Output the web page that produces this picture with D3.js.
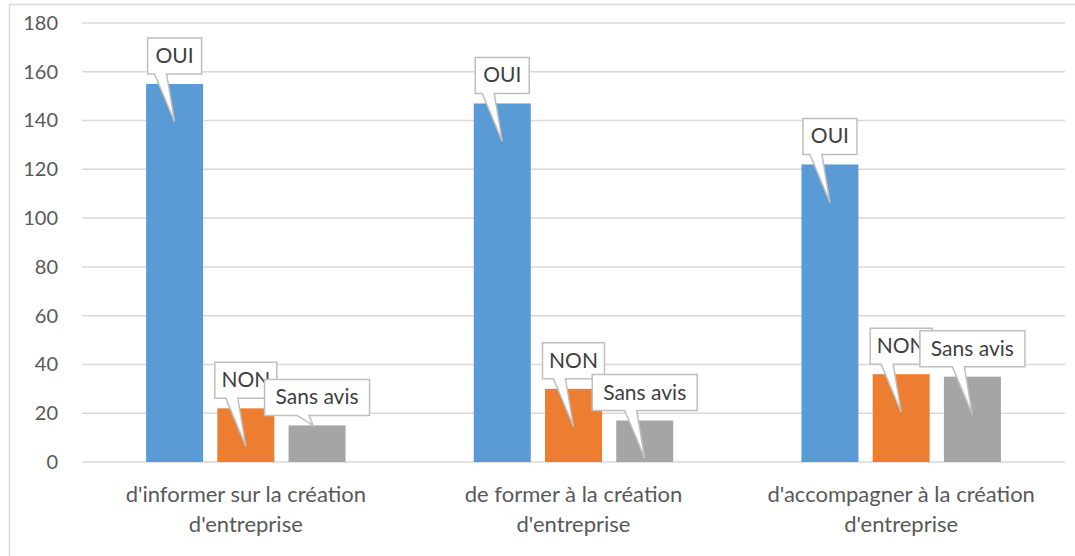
<!DOCTYPE html>
<html>
<head>
<meta charset="utf-8">
<style>
body {margin:0; background:#fff;}
svg {display:block; font-family: Lato, "Open Sans", sans-serif;}
</style>
</head>
<body>
<div id="my_dataviz"></div>
<script src="https://d3js.org/d3.v7.min.js"></script>
<script>
// data
var categories = [["d'informer sur la création", "d'entreprise"],
                  ["de former à la création", "d'entreprise"],
                  ["d'accompagner à la création", "d'entreprise"]]
var seriesNames = ["OUI", "NON", "Sans avis"]
var oui = [155, 147, 122]
var non = [22, 30, 36]
var sansAvis = [15, 17, 35]
var yTicks = [0, 20, 40, 60, 80, 100, 120, 140, 160, 180]
var colors = ["#5b9bd5", "#ed7d31", "#a5a5a5"]

var width = 1075, height = 556
var margin = {top: 23, right: 10, bottom: 94, left: 82}

var svg = d3.select("#my_dataviz")
  .append("svg")
    .attr("width", width)
    .attr("height", height)

// chart frame (only top and left edges are visible in the crop)
svg.append("path")
  .attr("d", "M9.5," + height + "V4.5H" + width)
  .attr("fill", "none")
  .attr("stroke", "#d9d9d9")
  .attr("stroke-width", 1.5)

var x = d3.scaleBand()
  .domain(d3.range(categories.length))
  .range([margin.left, width - margin.right])
  .paddingInner(0).paddingOuter(0)

var x1 = d3.scaleBand()
  .domain(seriesNames)
  .range([0, x.bandwidth()])
  .paddingInner(0.2).paddingOuter(0.9)

var y = d3.scaleLinear()
  .domain([0, 180])
  .range([height - margin.bottom, margin.top])

// gridlines
svg.append("g")
  .selectAll("line")
  .data(yTicks)
  .enter().append("line")
    .attr("x1", margin.left).attr("x2", width - margin.right)
    .attr("y1", function(d){ return y(d) }).attr("y2", function(d){ return y(d) })
    .attr("stroke", "#d9d9d9")
    .attr("stroke-width", 1.5)

// y axis labels
var yAxis = svg.append("g")
  .attr("transform", "translate(58,0)")
  .call(d3.axisLeft(y).tickValues(yTicks).tickSize(0).tickPadding(0))
yAxis.select(".domain").remove()
yAxis.selectAll("text")
  .attr("fill", "#595959")
  .style("font-size", "20px")
  .style("font-family", "Lato, sans-serif")

var series = [oui, non, sansAvis]
var bars = []
series.forEach(function(vals, s){
  vals.forEach(function(v, i){
    bars.push({cat: i, s: s, name: seriesNames[s], value: v})
  })
})

svg.append("g")
  .selectAll("rect")
  .data(bars)
  .enter().append("rect")
    .attr("x", function(d){ return x(d.cat) + x1(d.name) })
    .attr("y", function(d){ return y(d.value) })
    .attr("width", x1.bandwidth())
    .attr("height", function(d){ return y(0) - y(d.value) })
    .attr("fill", function(d){ return colors[d.s] })

// category labels
var cat = svg.append("g")
  .selectAll("text")
  .data(categories)
  .enter().append("text")
    .attr("text-anchor", "middle")
    .attr("fill", "#595959")
    .style("font-size", "22px")
cat.each(function(lines, i){
  var t = d3.select(this)
  lines.forEach(function(l, k){
    t.append("tspan")
      .attr("x", x(i) + x.bandwidth() / 2)
      .attr("y", 502 + k * 30)
      .text(l)
  })
})

// callouts, drawn per category so that "Sans avis" sits on top of "NON"
var boxW = {"OUI": 54, "NON": 62, "Sans avis": 105}
var boxH = 36
var calls = svg.append("g")
d3.range(categories.length).forEach(function(i){
  bars.filter(function(d){ return d.cat == i }).forEach(function(d){
    var cx = x(d.cat) + x1(d.name) + x1.bandwidth() / 2
    var top = y(d.value)
    var w = boxW[d.name]
    var bx = cx - w / 2, by = top - 10 - boxH, bb = by + boxH
    var tipY = top + 38
    var tipX = cx
    if (tipY > y(0) - 2) { tipY = top; tipX = cx - 4 }
    var b0 = cx - 20, b1 = cx - 8
    var p = "M" + bx + "," + by + "H" + (bx + w) + "V" + bb +
            "H" + b1 + "L" + tipX + "," + tipY + "L" + b0 + "," + bb +
            "H" + bx + "Z"
    calls.append("path")
      .attr("d", p)
      .attr("fill", "#fff")
      .attr("stroke", "#bfbfbf")
      .attr("stroke-width", 1.5)
    calls.append("text")
      .attr("x", bx + w / 2)
      .attr("y", by + boxH / 2 + 7)
      .attr("text-anchor", "middle")
      .attr("fill", "#404040")
      .style("font-size", "21px")
      .text(d.name)
  })
})
</script>
</body>
</html>
